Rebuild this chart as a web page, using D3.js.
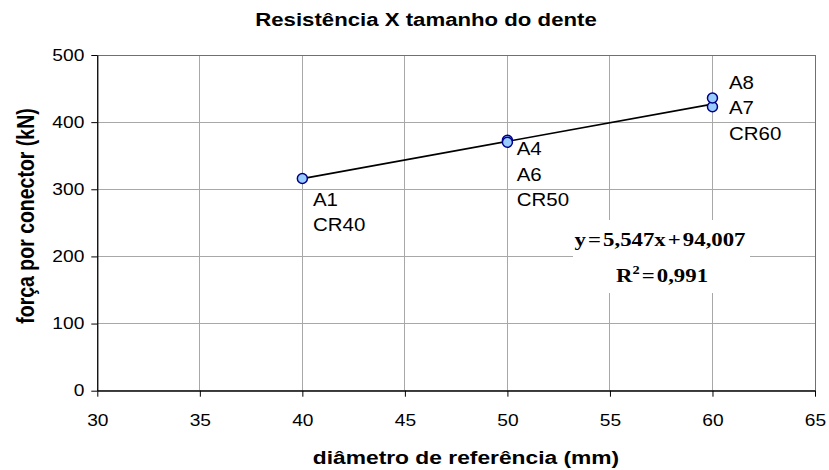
<!DOCTYPE html>
<html><head><meta charset="utf-8">
<script src="https://cdn.jsdelivr.net/npm/d3@7"></script>
<style>body{margin:0;background:#fff} svg{display:block}</style>
</head><body>
<svg id="c" width="829" height="470"></svg>
<script>
// ---- data ----
const xTicks = [30, 35, 40, 45, 50, 55, 60, 65];
const yTicks = [0, 100, 200, 300, 400, 500];
const pointIds = ["A1", "A4", "A6", "A7", "A8"];
const diam = [40, 50, 50, 60, 60];
const force = [316, 373, 370, 423, 436];
const labelGroups = [["A1", "CR40"], ["A4", "A6", "CR50"], ["A8", "A7", "CR60"]];
const labelAnchorX = [40, 50, 60];
const labelAnchorY = [316, 372, 423];
const trendSlope = 5.547;
const trendIntercept = 94.007;
const trendR2 = 0.991;
const trendRange = [40, 60];
const chartTitle = "Resistência X tamanho do dente";
const xTitle = "diâmetro de referência (mm)";
const yTitle = "força por conector (kN)";

// ---- layout ----
const SX = 1.2; // horizontal text stretch
const plot = {left: 97.3, right: 815, top: 55, bottom: 390.7};
const labelOffsets = [{dx: 10.6, dy: 21}, {dx: 9.3, dy: 8}, {dx: 16.5, dy: -24}];
const sans = "'Liberation Sans', Arial, sans-serif";
const serif = "'Liberation Serif', 'Times New Roman', serif";

const svg = d3.select("#c");
svg.append("rect").attr("width", 829).attr("height", 470).attr("fill", "#fff");

const x = d3.scaleLinear().domain([30, 65]).range([plot.left, plot.right]);
const y = d3.scaleLinear().domain([0, 500]).range([plot.bottom, plot.top]);

// gridlines
const grid = svg.append("g").attr("stroke", "#a8a8a8").attr("stroke-width", 1).attr("shape-rendering", "crispEdges");
grid.selectAll("line.h").data(yTicks.filter(v => v > 0 && v < 500)).enter().append("line")
  .attr("x1", plot.left).attr("x2", plot.right).attr("y1", d => y(d)).attr("y2", d => y(d));
grid.selectAll("line.v").data(xTicks.filter(v => v > 30 && v < 65)).enter().append("line")
  .attr("y1", plot.top).attr("y2", plot.bottom).attr("x1", d => x(d)).attr("x2", d => x(d));

// plot border (top/right)
svg.append("rect").attr("x", plot.left).attr("y", plot.top)
  .attr("width", plot.right - plot.left).attr("height", plot.bottom - plot.top)
  .attr("fill", "none").attr("stroke", "#707070").attr("shape-rendering", "crispEdges");

// axes
const yAxis = svg.append("g").attr("transform", `translate(${plot.left},0)`)
  .call(d3.axisLeft(y).tickValues(yTicks).tickSize(6).tickSizeOuter(0).tickPadding(7).tickFormat(d3.format("d")));
const xAxis = svg.append("g").attr("transform", `translate(0,${plot.bottom})`)
  .call(d3.axisBottom(x).tickValues(xTicks).tickSize(6).tickSizeOuter(0).tickPadding(18).tickFormat(d3.format("d")));
[yAxis, xAxis].forEach(a => {
  a.select(".domain").attr("stroke", "#000").attr("stroke-width", 1.2);
  a.selectAll(".tick line").attr("stroke", "#000");
  a.selectAll("text").attr("font-family", sans).attr("font-size", 16).attr("fill", "#000")
    .attr("transform", `scale(${SX},1)`);
});
yAxis.selectAll("text").attr("x", -13 / SX * SX / SX * SX).attr("x", -13 / SX);
xAxis.selectAll("text").attr("dy", "0.71em");

// helper for stretched text
function stext(sel, px, py, str, size, weight, anchor, family) {
  return sel.append("text")
    .attr("transform", `translate(${px},${py}) scale(${SX},1)`)
    .attr("text-anchor", anchor || "start")
    .attr("font-family", family || sans)
    .attr("font-size", size)
    .attr("font-weight", weight || "normal")
    .attr("fill", "#000")
    .text(str);
}

// equation box (white background)
const eqBox = {x0: 573, x1: 750, y0: 220, y1: 293};
svg.append("rect").attr("x", eqBox.x0).attr("y", eqBox.y0)
  .attr("width", eqBox.x1 - eqBox.x0).attr("height", eqBox.y1 - eqBox.y0).attr("fill", "#fff");

// trendline
const fmt = v => v.toFixed(3).replace(".", ",");
svg.append("line")
  .attr("x1", x(trendRange[0])).attr("y1", y(trendSlope * trendRange[0] + trendIntercept))
  .attr("x2", x(trendRange[1])).attr("y2", y(trendSlope * trendRange[1] + trendIntercept))
  .attr("stroke", "#000").attr("stroke-width", 1.6);

// points
svg.append("g").selectAll("circle").data(pointIds).enter().append("circle")
  .attr("cx", (d, i) => x(diam[i])).attr("cy", (d, i) => y(force[i])).attr("r", 5)
  .attr("fill", "#99ccff").attr("stroke", "#00008b").attr("stroke-width", 1.5);

// point labels
const lblG = svg.append("g");
labelGroups.forEach((lines, gi) => {
  const ax = x(labelAnchorX[gi]) + labelOffsets[gi].dx;
  const ay = y(labelAnchorY[gi]) + labelOffsets[gi].dy;
  lines.forEach((s, li) => {
    stext(lblG, ax, ay + li * 25.5 + 6.3, s, 17.5, "normal", "start").attr("transform",
      `translate(${ax},${ay + li * 25.5 + 6.3}) scale(1.17,1)`);
  });
});

// equation text
const eq1 = svg.append("text")
  .attr("transform", `translate(660,246) scale(${SX},1)`)
  .attr("text-anchor", "middle").attr("font-family", serif).attr("font-size", 19)
  .attr("font-weight", "bold").attr("word-spacing", "-3px")
  .text(`y = ${fmt(trendSlope)}x + ${fmt(trendIntercept)}`);
const eq2 = svg.append("text")
  .attr("transform", `translate(662,282) scale(${SX},1)`)
  .attr("text-anchor", "middle").attr("font-family", serif).attr("font-size", 19)
  .attr("font-weight", "bold").attr("word-spacing", "-3px");
eq2.append("tspan").text("R");
eq2.append("tspan").attr("font-size", 12).attr("dy", -8).text("2");
eq2.append("tspan").attr("dy", 8).text(" = " + fmt(trendR2));

// titles
stext(svg, 426, 26, chartTitle, 18.5, "bold", "middle");
stext(svg, 466, 464, xTitle, 19, "bold", "middle");
svg.append("text")
  .attr("transform", `translate(34,216) scale(${SX},1) rotate(-90)`)
  .attr("text-anchor", "middle").attr("font-family", sans).attr("font-size", 19.5)
  .attr("font-weight", "bold").attr("fill", "#000").text(yTitle);
</script>
</body></html>
